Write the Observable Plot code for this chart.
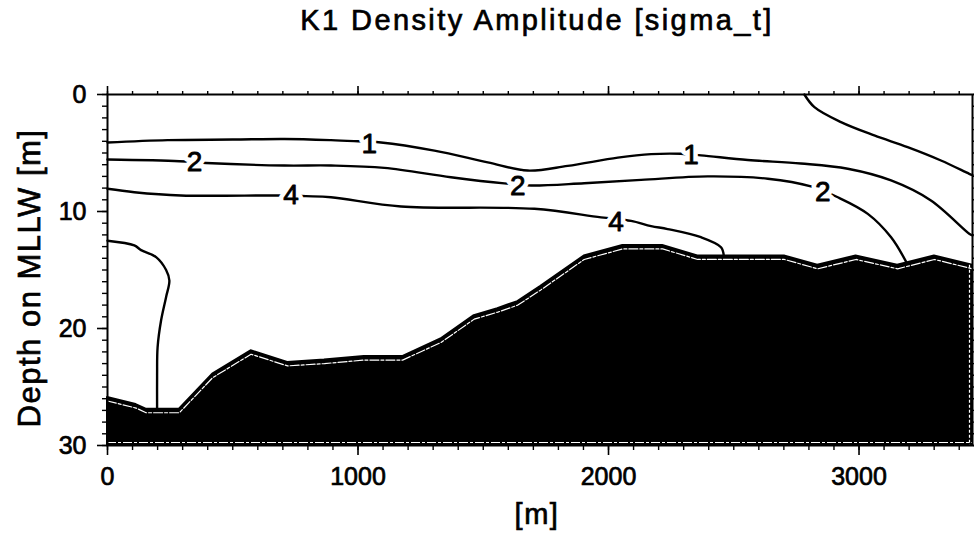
<!DOCTYPE html>
<html><head><meta charset="utf-8">
<script src="https://cdn.jsdelivr.net/npm/d3@7"></script>
<script src="https://cdn.jsdelivr.net/npm/@observablehq/plot@0.6"></script>
<style>
body{margin:0;background:#fff;}
#chart{width:974px;height:533px;}
</style>
</head><body><div id="chart"></div>
<script>
// ---- data ----
const xTicks = [0, 1000, 2000, 3000];
const yTicks = [0, 10, 20, 30];
const xMax = 3453;
const yMax = 30;

// bathymetry (bottom) profile: distance [m], depth [m]
const bathyX = [0, 114, 154, 287, 420, 573, 719, 866, 1025, 1178, 1331, 1464, 1558, 1638, 1730, 1903, 2057, 2216, 2356, 2529, 2702, 2835, 2988, 3154, 3301, 3453];
const bathyD = [25.9, 26.5, 26.9, 26.9, 23.9, 21.9, 22.9, 22.7, 22.4, 22.4, 20.9, 18.9, 18.3, 17.7, 16.4, 13.8, 12.9, 12.9, 13.8, 13.8, 13.8, 14.6, 13.8, 14.6, 13.8, 14.6];

// contour "1"
const c1X = [0, 240, 500, 706, 892, 1000, 1092, 1305, 1518, 1677, 1837, 2037, 2170, 2289, 2369, 2556, 2768, 2955, 3128, 3287, 3440, 3453];
const c1D = [4.1, 3.9, 3.85, 3.8, 3.9, 4.0, 4.1, 4.8, 5.8, 6.5, 6.1, 5.4, 5.1, 5.07, 5.2, 5.6, 5.9, 6.35, 7.35, 9.06, 11.9, 12.05];
// contour "2"
const c2X = [0, 287, 393, 706, 892, 1105, 1371, 1584, 1691, 1903, 2130, 2396, 2636, 2808, 2915, 3035, 3128, 3188];
const c2D = [5.56, 5.7, 5.85, 6.07, 6.07, 6.27, 7.07, 7.6, 7.78, 7.58, 7.3, 7.0, 7.2, 7.86, 8.78, 10.2, 12.2, 14.3];
// contour "4"
const c4X = [0, 107, 293, 693, 792, 892, 1172, 1704, 1970, 2090, 2170, 2236, 2369, 2449, 2460];
const c4D = [8.06, 8.35, 8.63, 8.63, 8.69, 8.78, 9.57, 9.77, 10.5, 10.8, 11.25, 11.5, 12.2, 13.05, 13.76];
// unlabeled contour, upper right
const cTRX = [2782, 2822, 2928, 3061, 3194, 3327, 3440, 3453];
const cTRD = [0, 1.08, 2.36, 3.5, 4.5, 5.64, 6.78, 6.9];
// unlabeled contour, lower left
const cLX = [0, 107, 134, 194, 234, 247, 234, 214, 200, 198, 198];
const cLD = [12.5, 12.9, 13.3, 13.9, 15.0, 15.9, 17.3, 19.3, 21.6, 24.0, 26.9];

// contour labels
const labX = [1045, 2329, 347, 1638, 2855, 733, 2030];
const labD = [4.2, 5.2, 5.8, 7.8, 8.35, 8.63, 10.9];
const labT = ["1", "1", "2", "2", "2", "4", "4"];

const titleText = "K1 Density Amplitude [sigma_t]";
const yLabelText = "Depth on MLLW [m]";
const xLabelText = "[m]";

// ---- tables ----
const zip = (xs, ds) => xs.map((x, i) => ({x, d: ds[i]}));
const bathy = zip(bathyX, bathyD);
const contours = [
  {pts: zip(c1X, c1D)}, {pts: zip(c2X, c2D)}, {pts: zip(c4X, c4D)},
  {pts: zip(cTRX, cTRD)}, {pts: zip(cLX, cLD)}
];
const labels = labX.map((x, i) => ({x, d: labD[i], t: labT[i]}));
const xMinor = d3.range(0, xMax + 1, 100);
const yMinor = d3.range(0, yMax + 1, 1);
const blank = () => "";
const plain = d => String(d);

const chart = Plot.plot({
  width: 974,
  height: 533,
  marginLeft: 107,
  marginRight: 2,
  marginTop: 94,
  marginBottom: 88,
  style: {fontFamily: "'Liberation Sans', Arial, Helvetica, sans-serif", fontSize: "25px", background: "white", color: "black"},
  x: {domain: [0, xMax]},
  y: {domain: [0, yMax], reverse: true},
  marks: [
    Plot.areaY(bathy, {x: "x", y1: "d", y2: yMax, fill: "black", stroke: "black", strokeWidth: 2}),
    Plot.line(bathy, {x: "x", y: "d", stroke: "white", strokeWidth: 1.2, strokeDasharray: "9 2 3 2", dy: 3.5}),
    Plot.ruleY([yMax], {stroke: "white", strokeWidth: 1.2, strokeDasharray: "9 2 3 2", dy: -3}),
    Plot.ruleX([xMax], {y1: bathyD[bathyD.length - 1], y2: yMax, stroke: "white", strokeWidth: 1.2, strokeDasharray: "3 2", dx: -3}),
    ...contours.map(c => Plot.line(c.pts, {x: "x", y: "d", stroke: "black", strokeWidth: 2.4, curve: "catmull-rom"})),
    Plot.text(labels, {x: "x", y: "d", text: "t", fontSize: 28, fill: "white", stroke: "white", strokeWidth: 10}),
    Plot.text(labels, {x: "x", y: "d", text: "t", fontSize: 28, fill: "black", stroke: "black", strokeWidth: 0.8}),
    Plot.frame({stroke: "black", strokeWidth: 2}),
    Plot.axisX({anchor: "bottom", ticks: xTicks, tickSize: 10, tickPadding: 12, tickFormat: plain, label: null, strokeWidth: 1.6, fontSize: 25}),
    Plot.axisX({anchor: "bottom", ticks: xMinor, tickSize: 5, tickFormat: blank, label: null, strokeWidth: 1.4}),
    Plot.axisX({anchor: "top", ticks: xTicks, tickSize: 9, tickFormat: blank, label: null, strokeWidth: 1.6}),
    Plot.axisX({anchor: "top", ticks: xMinor, tickSize: 4, tickFormat: blank, label: null, strokeWidth: 1.4}),
    Plot.axisY({anchor: "left", ticks: yTicks, tickSize: 10, tickPadding: 11, tickFormat: plain, label: null, strokeWidth: 1.6, fontSize: 25}),
    Plot.axisY({anchor: "left", ticks: yMinor, tickSize: 5, tickFormat: blank, label: null, strokeWidth: 1.4}),
    Plot.axisY({anchor: "right", ticks: yTicks, tickSize: 8, tickFormat: blank, label: null, strokeWidth: 1.6}),
    Plot.axisY({anchor: "right", ticks: yMinor, tickSize: 4, tickFormat: blank, label: null, strokeWidth: 1.4})
  ]
});

const svg = d3.select(chart);
svg.selectAll("text").attr("paint-order", "stroke");
// thicken axis tick labels slightly (scanned look)
svg.selectAll("[aria-label^='x-axis tick label'] text, [aria-label^='y-axis tick label'] text")
  .attr("stroke", "black").attr("stroke-width", 0.7);
svg.append("text").text(titleText)
  .attr("x", 537).attr("y", 30).attr("text-anchor", "middle")
  .attr("font-size", 29).attr("letter-spacing", "2.4px").attr("fill", "black")
  .attr("stroke", "black").attr("stroke-width", 0.7);
svg.append("text").text(yLabelText)
  .attr("transform", "translate(40,278) rotate(-90)").attr("text-anchor", "middle")
  .attr("font-size", 31).attr("letter-spacing", "1.5px").attr("fill", "black")
  .attr("stroke", "black").attr("stroke-width", 0.7);
svg.append("text").text(xLabelText)
  .attr("x", 537).attr("y", 524).attr("text-anchor", "middle")
  .attr("font-size", 29).attr("letter-spacing", "1.5px").attr("fill", "black")
  .attr("stroke", "black").attr("stroke-width", 0.7);

document.getElementById("chart").appendChild(chart);
</script>
</body></html>
